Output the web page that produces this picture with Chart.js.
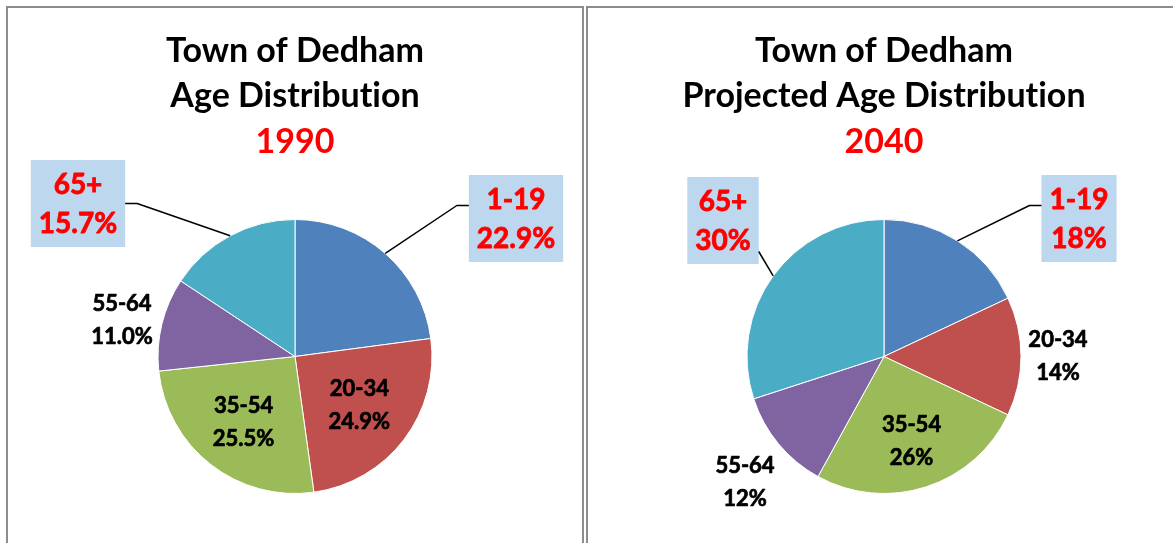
<!DOCTYPE html>
<html>
<head>
<meta charset="utf-8">
<script src="https://cdn.jsdelivr.net/npm/chart.js@4/dist/chart.umd.min.js"></script>
<style>
  html, body { margin: 0; padding: 0; background: #fff; overflow: hidden; width: 1173px; height: 543px; }
  .panel { position: absolute; top: 6px; border: 2px solid #8c8c8c; border-bottom: none; height: 537px; }
  #left { left: 6px; width: 574px; }
  #right { left: 586px; width: 592px; border-right: none; }
  canvas { display: block; }
</style>
</head>
<body>
<div class="panel" id="left"><canvas id="pie1990"></canvas></div>
<div class="panel" id="right"><canvas id="pie2040"></canvas></div>
<script>
// age groups and shares (percent)
var ageGroups = ['1-19', '20-34', '35-54', '55-64', '65+'];
var share1990 = [22.9, 24.9, 25.5, 11.0, 15.7];
var share2040 = [18, 14, 26, 12, 30];
var titleLines1990 = ['Town of Dedham', 'Age Distribution'];
var titleLines2040 = ['Town of Dedham', 'Projected Age Distribution'];
var year1990 = '1990';
var year2040 = '2040';

var sliceColors = ['#4F81BD', '#C0504D', '#9BBB59', '#8064A2', '#4BACC6'];

// where each slice label goes (r = fraction of radius along mid angle, or dx/dy from centre, or a callout box)
var layout1990 = [
  { box: true, dx: 221, dy: -138, side: 'left', attachDy: -13, elbow: 12 },
  { r: 0.59 },
  { r: 0.61 },
  { dx: -173, dy: -36 },
  { box: true, dx: -217, dy: -153, side: 'right', attachDy: 0, elbow: 12 }
];
var layout2040 = [
  { box: true, dx: 195, dy: -138, side: 'left', attachDy: -13, elbow: 12 },
  { r: 1.27 },
  { r: 0.65 },
  { dx: -139, dy: 126 },
  { box: true, dx: -161, dy: -136, side: 'right', attachDy: 31, elbow: 0 }
];

// no "ti" ligature, like the original
var plainText = {
  id: 'plainText',
  beforeDraw: function(chart) {
    chart.ctx.textRendering = 'optimizeSpeed';
  }
};

function boldText(ctx, s, x, y) {
  ctx.fillText(s, x, y);
  ctx.strokeText(s, x, y);
}

var ageLabels = {
  id: 'ageLabels',
  afterDatasetsDraw: function(chart, args, opts) {
    var ctx = chart.ctx;
    var meta = chart.getDatasetMeta(0);
    var data = chart.data.datasets[0].data;
    ctx.save();
    ctx.textRendering = 'optimizeSpeed';
    meta.data.forEach(function(arc, i) {
      var p = arc.getProps(['x', 'y', 'startAngle', 'endAngle', 'outerRadius'], true);
      var mid = (p.startAngle + p.endAngle) / 2;
      var lay = opts.layout[i];
      var lines = [chart.data.labels[i], data[i].toFixed(opts.decimals) + '%'];
      var cx, cy;
      if (lay.r !== undefined) {
        cx = p.x + Math.cos(mid) * p.outerRadius * lay.r;
        cy = p.y + Math.sin(mid) * p.outerRadius * lay.r;
      } else {
        cx = p.x + lay.dx;
        cy = p.y + lay.dy;
      }
      ctx.textAlign = 'center';
      ctx.textBaseline = 'middle';
      ctx.lineJoin = 'round';
      if (lay.box) {
        ctx.font = 'bold 28px Lato';
        var w = Math.max(ctx.measureText(lines[0]).width, ctx.measureText(lines[1]).width) + 16;
        var h = 87;
        ctx.fillStyle = '#BDD7EE';
        ctx.fillRect(cx - w / 2, cy - h / 2, w, h);
        ctx.fillStyle = '#FF0000';
        ctx.strokeStyle = '#FF0000';
        ctx.lineWidth = 0.8;
        boldText(ctx, lines[0], cx, cy - 19);
        boldText(ctx, lines[1], cx, cy + 20);
        // leader line
        var sx = p.x + Math.cos(mid) * p.outerRadius;
        var sy = p.y + Math.sin(mid) * p.outerRadius;
        var ax = lay.side === 'left' ? cx - w / 2 : cx + w / 2;
        var ay = cy + lay.attachDy;
        var ex = lay.side === 'left' ? ax - lay.elbow : ax + lay.elbow;
        ctx.strokeStyle = '#000';
        ctx.lineWidth = 1.5;
        ctx.beginPath();
        ctx.moveTo(sx, sy);
        ctx.lineTo(ex, ay);
        ctx.lineTo(ax, ay);
        ctx.stroke();
      } else {
        ctx.font = 'bold 22px Lato';
        ctx.fillStyle = '#000';
        ctx.strokeStyle = '#000';
        ctx.lineWidth = 0.7;
        boldText(ctx, lines[0], cx, cy - 16.5);
        boldText(ctx, lines[1], cx, cy + 16.5);
      }
    });
    ctx.restore();
  }
};

function makePie(id, values, titleLines, year, lay, decimals) {
  return new Chart(document.getElementById(id), {
    type: 'pie',
    data: {
      labels: ageGroups,
      datasets: [{
        data: values,
        backgroundColor: sliceColors,
        borderColor: '#ffffff',
        borderWidth: 1
      }]
    },
    options: {
      responsive: true,
      maintainAspectRatio: false,
      animation: false,
      layout: { padding: { top: 0, bottom: 51, left: 0, right: 0 } },
      plugins: {
        legend: { display: false },
        tooltip: { enabled: false },
        title: {
          display: true,
          text: titleLines,
          color: '#000',
          font: { family: 'Lato', weight: 'bold', size: 34, lineHeight: '45px' },
          padding: { top: 20.5, bottom: 1 }
        },
        subtitle: {
          display: true,
          text: year,
          color: '#FF0000',
          font: { family: 'Lato', weight: 'bold', size: 34, lineHeight: '45px' },
          padding: { top: 0, bottom: 54.5 }
        },
        ageLabels: { layout: lay, decimals: decimals }
      }
    },
    plugins: [plainText, ageLabels]
  });
}

makePie('pie1990', share1990, titleLines1990, year1990, layout1990, 1);
makePie('pie2040', share2040, titleLines2040, year2040, layout2040, 0);
</script>
</body>
</html>
